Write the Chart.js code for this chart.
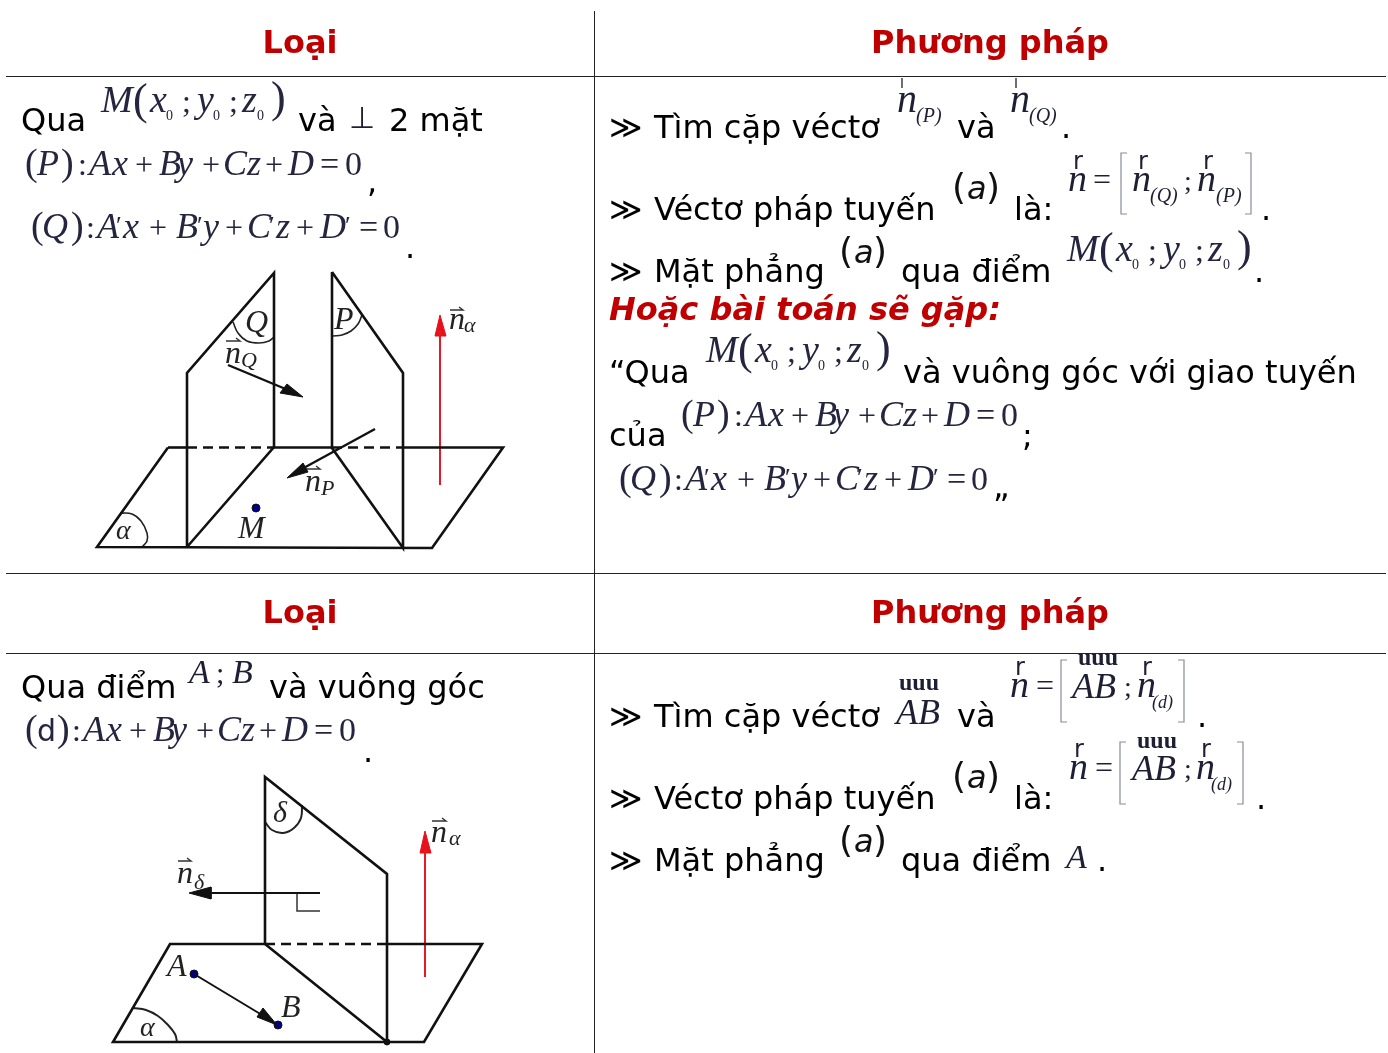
<!DOCTYPE html>
<html lang="vi"><head><meta charset="utf-8">
<style>html,body{margin:0;padding:0;background:#fff}canvas{display:block}</style>
<script src="https://cdn.jsdelivr.net/npm/chart.js@4"></script></head>
<body><canvas id="c" width="1388" height="1053"></canvas>
<script>
// table rules
const tableRules=[[[6,76.5],[1386,76.5]],[[6,573.5],[1386,573.5]],[[6,653.5],[1386,653.5]],[[594.5,11],[594.5,1053]]];
// figure 1
const fig1Solid=[[[168,447.5],[97,547],[432,548],[503,447.5],[403,447.5]],[[168,447.5],[187,447.5]],[[274,447.5],[332,447.5]],
 [[187,547],[187,373],[274,273],[274,447],[187,547]],[[332,272],[332,448],[403,548],[403,373],[332,272]]];
const fig1Dash=[[[187,447.5],[274,447.5]],[[332,447.5],[403,447.5]]];
const fig1Arrows=[[[228,365],[288,390]],[[375,429],[300,470]]];
const fig1Heads=[[[303,397],[280,393],[287,384],[303,397]],[[287,478],[303,463],[308,472],[287,478]]];
const fig1Red=[[[440,485],[440,330]]];
const fig1RedHead=[[[440,315],[435,336],[446,336],[440,315]]];
const fig1Arcs=[[[233,322],[238,333],[247,341],[259,343],[269,341],[274,337]],[[333,336],[342,335],[351,331],[358,324],[362,315]],[[120,513],[132,514],[141,521],[147,533],[147,541],[142,547]]];
const fig1Points=[[256,508]];
// figure 2
const fig2Solid=[[[265,944],[170,944],[113,1042],[424,1042],[482,944],[387,944]],
 [[265,944],[265,777],[387,874],[387,1042],[265,944]]];
const fig2Dash=[[[265,944],[387,944]]];
const fig2Arrows=[[[320,893],[208,893]],[[194,974],[262,1015]]];
const fig2Thin=[[[297,893],[297,911],[320,911]]];
const fig2Heads=[[[189,893],[211,887],[211,899],[189,893]],[[277,1025],[257,1017],[263,1008],[277,1025]]];
const fig2Red=[[[425,977],[425,850]]];
const fig2RedHead=[[[425,831],[420,853],[431,853],[425,831]]];
const fig2Arcs=[[[265,822],[272,830],[283,833],[294,828],[301,818],[302,805]],[[133,1008],[146,1010],[158,1016],[168,1025],[175,1034],[177,1042]]];
const fig2Points=[[194,974],[278,1025]];
const fig2Black=[[387,1042]];
// small vector marks and formula brackets
const vectorBars=[[[450,310],[463,310],[459,307]],[[226,341],[240,341],[236,338]],[[306,469],[320,469],[316,466]],[[178,861],[191,861],[187,858]],[[432,821],[446,821],[442,818]],
 [[902,78],[902,88]],[[1016,78],[1016,88]]];
const brackets=[[[1127,153],[1121,153],[1121,214],[1127,214]],[[1245,153],[1251,153],[1251,214],[1245,214]],
 [[1067,660],[1061,660],[1061,722],[1067,722]],[[1178,660],[1184,660],[1184,722],[1178,722]],
 [[1126,742],[1120,742],[1120,804],[1126,804]],[[1237,742],[1243,742],[1243,804],[1237,804]]];
// texts
const headers=[["Loại",300,53],["Phương pháp",990,53],["Loại",300,623],["Phương pháp",990,623]];
const bodyTexts=[["Qua",21,131],["và",298,131],["2 mặt",389,131],[",",367,192],[".",405,258],
 ["≫",609,138],["Tìm cặp véctơ",654,138],["và",957,138],[".",1061,138],
 ["≫",609,220],["Véctơ pháp tuyến",654,220],["là:",1014,220],[".",1261,220],
 ["≫",609,282],["Mặt phẳng",654,282],["qua điểm",901,282],[".",1254,282],
 ["“Qua",609,383],["và vuông góc với giao tuyến",903,383],["của",609,446],[";",1022,446],["„",993,497],
 ["Qua điểm",21,698],["và vuông góc",269,698],[".",363,762],
 ["≫",609,727],["Tìm cặp véctơ",654,727],["và",957,727],[".",1197,727],
 ["≫",609,809],["Véctơ pháp tuyến",654,809],["là:",1014,809],[".",1256,809],
 ["≫",609,871],["Mặt phẳng",654,871],["qua điểm",901,871],[".",1097,871]];
const redTexts=[["Hoặc bài toán sẽ gặp:",609,320]];
const pointFormula=[["M",0,0,"i38"],["(",32,2,"r44"],["x",49,0,"i38"],["0",65,8,"r14"],[";",81,0,"r32"],["y",96,0,"i38"],["0",112,8,"r14"],[";",128,0,"r32"],["z",141,0,"i38"],["0",156,8,"r14"],[")",170,0,"r44"]];
const planeP=[["(",0,0,"r38"],["P",12,0,"i36"],[")",36,0,"r38"],[":",53,0,"r32"],["A",64,0,"i36"],["x",87,0,"i36"],["+",110,0,"r32"],["B",134,0,"i36"],["y",152,0,"i36"],["+",177,0,"r32"],["C",198,0,"i36"],["z",222,0,"i36"],["+",240,0,"r32"],["D",263,0,"i36"],["=",295,0,"r34"],["0",320,0,"r34"]];
const planeD=[["(",0,0,"r38"],["d",12,0,"s30"],[")",32,0,"r38"],[":",47,0,"r32"],["A",58,0,"i36"],["x",81,0,"i36"],["+",104,0,"r32"],["B",128,0,"i36"],["y",146,0,"i36"],["+",171,0,"r32"],["C",192,0,"i36"],["z",216,0,"i36"],["+",234,0,"r32"],["D",257,0,"i36"],["=",289,0,"r34"],["0",314,0,"r34"]];
const planeQ=[["(",0,0,"r38"],["Q",11,0,"i36"],[")",40,0,"r38"],[":",55,0,"r32"],["A",66,0,"i36"],["′",85,-4,"r26"],["x",92,0,"i36"],["+",118,0,"r32"],["B",145,0,"i36"],["′",166,-4,"r26"],["y",172,0,"i36"],["+",194,0,"r32"],["C",216,0,"i36"],["′",238,-4,"r26"],["z",245,0,"i36"],["+",265,0,"r32"],["D",289,0,"i36"],["′",314,-4,"r26"],["=",328,0,"r34"],["0",352,0,"r34"]];
const parenA=[["(",0,0,"s36"],["a",15,0,"s32o"],[")",34,0,"s36"]];
const formulaPlaces=[[pointFormula,101,112],[pointFormula,1067,261],[pointFormula,706,362],
 [planeP,25,175],[planeP,681,426],[planeQ,31,238],[planeQ,619,490],[planeD,25,741],
 [parenA,952,199],[parenA,839,263],[parenA,952,788],[parenA,839,852]];
const mathTexts=[["⊥",349,128,"r30"],
 ["n",897,112,"i40"],["(P)",916,122,"ri20"],["n",1010,112,"i40"],["(Q)",1029,122,"ri20"],
 ["r",1073,169,"s24"],["n",1068,191,"i38"],["=",1093,190,"r32"],["r",1138,169,"s24"],["n",1132,191,"i38"],["(Q)",1150,202,"ri20"],[";",1184,190,"r28"],["r",1203,169,"s24"],["n",1197,191,"i38"],["(P)",1216,202,"ri20"],
 ["A",189,683,"i34"],[";",216,683,"r30"],["B",232,683,"i34"],
 ["uuu",899,690,"br24"],["AB",896,724,"i36"],
 ["r",1015,675,"s24"],["n",1010,697,"i38"],["=",1036,696,"r32"],["uuu",1078,665,"br24"],["AB",1072,698,"i36"],[";",1124,696,"r28"],["r",1142,675,"s24"],["n",1137,697,"i38"],["(d)",1152,708,"ri18"],
 ["r",1074,757,"s24"],["n",1069,779,"i38"],["=",1095,778,"r32"],["uuu",1137,748,"br24"],["AB",1132,780,"i36"],[";",1184,778,"r28"],["r",1201,757,"s24"],["n",1196,779,"i38"],["(d)",1211,790,"ri18"],
 ["A",1066,868,"i34"]];
const figLabels=[["Q",245,332,"i32"],["P",334,329,"i32"],["α",116,539,"i28"],["M",238,538,"i32"],
 ["n",225,363,"i32"],["Q",241,367,"i22"],["n",305,491,"i32"],["P",321,495,"i22"],["n",449,329,"i32"],["α",464,332,"i22"],
 ["δ",273,822,"i30"],["n",177,883,"i32"],["δ",194,889,"i22"],["n",431,842,"i32"],["α",449,845,"i22"],
 ["A",167,976,"i32"],["B",281,1017,"i32"],["α",140,1036,"i28"]];

const fontMap={
 i:s=>`italic ${s}px "Liberation Serif"`, r:s=>`${s}px "Liberation Serif"`,
 ri:s=>`italic ${s}px "Liberation Serif"`, br:s=>`bold ${s}px "Liberation Serif"`,
 s:s=>`${s}px "DejaVu Sans"`, so:s=>`oblique ${s}px "DejaVu Sans"`};
function fontOf(k){const m=k.match(/^([a-z]+)(\d+)(o?)$/);return m[3]?fontMap.so(m[2]):fontMap[m[1]](m[2]);}
const xy=p=>({x:p[0],y:p[1]});
function lines(list,color,width,extra){return list.map(l=>Object.assign({data:l.map(xy),showLine:true,borderColor:color,borderWidth:width,pointRadius:0,tension:0,fill:false},extra||{}));}
function heads(list,color){return list.map(l=>({data:l.map(xy),showLine:true,borderColor:color,backgroundColor:color,borderWidth:1,pointRadius:0,fill:'shape'}));}
function dots(list,color){return [{data:list.map(xy),showLine:false,pointRadius:4,pointBackgroundColor:color,pointBorderColor:'#111',pointBorderWidth:1}];}
const K='#111';
const datasets=[
 ...lines(tableRules,'#222',1),
 ...lines(fig1Solid,K,2.6),...lines(fig1Dash,K,2.6,{borderDash:[10,6]}),...lines(fig1Arrows,K,2.4),...heads(fig1Heads,K),
 ...lines(fig1Red,'#e21b25',2),...heads(fig1RedHead,'#e8101a'),...lines(fig1Arcs,'#222',1.6,{tension:.4}),...dots(fig1Points,'#00008b'),
 ...lines(fig2Solid,K,2.6),...lines(fig2Dash,K,2.6,{borderDash:[10,6]}),...lines(fig2Arrows,K,2),...lines(fig2Thin,'#333',1.5),...heads(fig2Heads,K),
 ...lines(fig2Red,'#e21b25',2),...heads(fig2RedHead,'#e8101a'),...lines(fig2Arcs,'#222',2,{tension:.4}),...dots(fig2Points,'#00008b'),
 {data:fig2Black.map(xy),showLine:false,pointRadius:3,pointBackgroundColor:K,pointBorderColor:K},
 ...lines(vectorBars,'#333',1.4),...lines(brackets,'#8a8aa0',1.2)
];
const textPlugin={id:'texts',
 beforeDatasetDraw(chart,args){chart.ctx.save();if(args.index>=tableRules.length)chart.ctx.filter='blur(0.4px)';},
 afterDatasetDraw(chart){chart.ctx.restore();},
 afterDatasetsDraw(chart){
 const c=chart.ctx,X=v=>chart.scales.x.getPixelForValue(v),Y=v=>chart.scales.y.getPixelForValue(v);
 const put=(t,x,y,f,col)=>{c.font=f;c.fillStyle=col;c.fillText(t,X(x),Y(y));};
 c.save();c.textBaseline='alphabetic';
 c.textAlign='center';headers.forEach(h=>put(h[0],h[1],h[2],'bold 32px "DejaVu Sans"','#c00000'));
 c.textAlign='left';
 bodyTexts.forEach(t=>put(t[0],t[1],t[2],'32px "DejaVu Sans"','#000'));
 redTexts.forEach(t=>put(t[0],t[1],t[2],'italic bold 32px "DejaVu Sans"','#c00000'));
 c.filter='blur(0.4px)';
 formulaPlaces.forEach(p=>p[0].forEach(t=>{
   const isA=p[0]===parenA;
   put(t[0],p[1]+t[1],p[2]+t[2],fontOf(t[3]),isA?'#111':'#25253f');}));
 mathTexts.forEach(t=>put(t[0],t[1],t[2],fontOf(t[3]),'#1e1e34'));
 figLabels.forEach(t=>put(t[0],t[1],t[2],fontOf(t[3]),'#222'));
 c.restore();
}};
new Chart(document.getElementById('c'),{type:'scatter',data:{datasets},plugins:[textPlugin],options:{
 responsive:false,animation:false,events:[],layout:{padding:0,autoPadding:false},
 plugins:{legend:{display:false},tooltip:{enabled:false},title:{display:false}},
 scales:{x:{type:'linear',display:false,min:0,max:1388},y:{type:'linear',display:false,min:0,max:1053,reverse:true}}}});
</script></body></html>
